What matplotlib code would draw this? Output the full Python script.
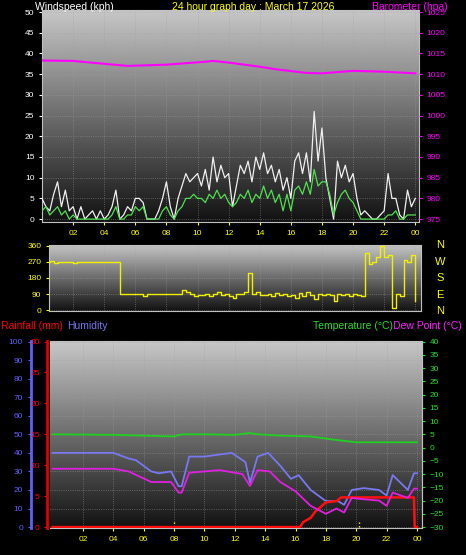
import numpy as np
import matplotlib
matplotlib.use("Agg")
import matplotlib.pyplot as plt
plt.rcParams['font.family'] = ['Liberation Sans', 'DejaVu Sans']

hours_q = [i * 0.25 for i in range(97)]
gust = [5,3,2,6,9,3,7,2,3,
        0,3,0,1,2,0,2,0,
        1,3,7,0,1,3,2,5,
        5,4,0,0,0,2,5,9,
        3,0,5,8,11,9,10,11,
        8,12,7,15,9,13,10,11,
        3,8,13,11,14,9,15,12,
        16,11,13,9,12,7,10,5,
        14,16,11,16,9,26,14,22,
        10,5,0,14,10,13,9,11,
        5,1,2,1,0,0,1,2,
        11,5,5,1,0,7,3,5]
avg = [2,3,1,2,3,1,2,0,1,
       0,0,0,0,0,0,0,0,
       0,1,3,0,0,1,1,3,
       2,3,0,0,0,0,2,3,
       1,0,2,3,5,5,6,5,
       5,4,6,5,7,5,6,4,
       3,4,6,5,7,4,6,5,
       8,5,7,4,6,2,6,2,
       7,8,6,9,6,12,8,9,
       9,6,1,4,6,7,5,4,
       2,0,0,0,0,0,0,0,
       1,1,2,0,0,1,1,1]
winddir = [270,270,275,265,270,270,270,270,265,
           270,270,270,270,270,270,270,270,
           270,270,270,90,90,90,90,90,
           90,80,90,90,90,90,90,90,
           90,90,90,110,100,90,80,85,
           85,90,80,90,100,85,90,80,
           70,90,90,100,210,90,100,85,
           85,90,80,95,85,90,80,85,
           70,95,80,100,85,60,90,85,
           90,85,50,90,85,90,80,90,
           85,80,320,260,270,300,360,300,
           310,10,90,80,280,270,310,50]
baro_t = [0,2,4,5.5,8,10.5,11,12,14,15,17,18,20,22,24]
baro_v = [1013.3,1013.2,1012.5,1012.0,1012.3,1013.0,1013.2,1012.8,1011.8,1011.2,1010.3,1010.2,1010.8,1010.6,1010.2]

temp_t = [0,4,6,8,8.5,10,12,13,13.5,15,17,18.5,20,22,24]
temp_v = [5,4.8,4.5,4.2,5,5,4.8,5.5,5,4.5,4.2,3,2,2,2]
hum_t = [0,4,5,5.5,6.5,7,7.8,8.3,8.5,9,10,11.8,12.7,13,13.5,14.2,15,15.7,16.2,17,18,18.8,19.2,19.7,20.5,21.5,22,22.4,23.4,23.8,24]
hum_v = [40,40,37,36,30,29,30,22,22,38,38,40,35,24,38,40,33,26,28,20,14,14,12,20,21,20,17,28,20,29,29]
dew_t = [0,4,5,6.5,7.8,8.3,8.5,9,11,12.5,13,13.5,14.3,15,16,17,18,18.7,19.2,19.7,20.5,21.5,22,22.4,23.4,23.8,24]
dew_v = [-8,-8,-9,-13,-13,-17,-17,-9.5,-8.5,-10,-14.5,-8.5,-9,-13,-16.5,-22,-25,-23,-24.5,-19,-19.5,-20,-22,-17,-19,-15.5,-15.5]
rain_t = [0,16.3,16.5,17,17.3,18,18.7,19,23.8,23.85,24]
rain_v = [0,0,0.8,1.5,2.5,4,4.2,4.8,4.8,0,0]
xt = [2,4,6,8,10,12,14,16,18,20,22,24]
xtl = ['02','04','06','08','10','12','14','16','18','20','22','00']

fig = plt.figure(figsize=(4.66, 5.55), dpi=100, facecolor='black')
grad = np.linspace(0.78, 0.07, 256).reshape(-1, 1)

def bg(ax):
    ax.set_facecolor('black')
    ax.imshow(grad, cmap='gray', vmin=0, vmax=1, aspect='auto',
              extent=[0, 1, 0, 1], transform=ax.transAxes, zorder=0)
    ax.grid(True, color='#a0a0a0', ls=':', lw=0.6, alpha=0.6)
    for s in ax.spines.values():
        s.set_color('#c0c0c0')
    ax.tick_params(colors='yellow', labelsize=6, length=2)

ax1 = fig.add_axes([42/466, 1-222/555, 377/466, 212/555])
bg(ax1)
ax1.plot(hours_q, gust, color='#f0f0f0', lw=0.9, zorder=3)
ax1.plot(hours_q, avg, color='#50e050', lw=0.9, zorder=4)
ax1.set_xlim(0, 24.24)
ax1.set_ylim(-0.7, 50.5)
ax1.set_yticks(range(0, 51, 5))
ax1.set_xticks(xt); ax1.set_xticklabels(xtl)
ax1.tick_params(axis='y', colors='white')
for l in ax1.get_xticklabels(): l.set_color('yellow')
ax1b = ax1.twinx()
ax1b.plot(baro_t, baro_v, color='#ff00ff', lw=1.5, zorder=5)
ax1b.set_ylim(975 - 0.7, 1025.5)
ax1b.set_yticks(range(975, 1026, 5))
ax1b.tick_params(colors='#ff00ff', labelsize=6, length=2)
for s in ax1b.spines.values(): s.set_visible(False)
fs = 7.5
fig.text(35/466, 1-7/555, 'Windspeed (kph)', color='white', fontsize=fs, va='center')
fig.text(172/466, 1-7/555, '24 hour graph day : March 17 2026', color='yellow', fontsize=fs, va='center')
fig.text(372/466, 1-7/555, 'Barometer (hpa)', color='#ff00ff', fontsize=fs, va='center')

ax2 = fig.add_axes([49/466, 1-311/555, 372/466, 66/555])
bg(ax2)
ax2.plot(hours_q, winddir, color='#f0f000', lw=1.0, drawstyle='steps-post', zorder=3)
ax2.set_xlim(0.45, 24.37)
ax2.set_ylim(-5, 365)
ax2.set_yticks([0, 90, 180, 270, 360])
ax2.set_xticks(xt); ax2.set_xticklabels([])
ax2.tick_params(axis='x', length=0)
for i, c in enumerate(['N', 'W', 'S', 'E', 'N']):
    fig.text(440/466, 1-(245+i*16.5)/555, c, color='yellow', fontsize=8, ha='center', va='center')

ax3 = fig.add_axes([50/466, 1-528/555, 372/466, 187/555])
bg(ax3)
ax3.set_xlim(-0.17, 24.33)
ax3.set_ylim(-0.5, 100.3)
ax3.plot(hum_t, hum_v, color='#7878f0', lw=1.3, zorder=4)
ax3.set_yticks(range(0, 101, 10))
ax3.spines['left'].set_position(('outward', 14))
ax3.spines['left'].set_color('#6060ff'); ax3.spines['left'].set_linewidth(2)
ax3.tick_params(axis='y', colors='#6060ff')
for l in ax3.get_yticklabels(): l.set_color('#6060ff')
ax3.set_xticks(xt); ax3.set_xticklabels(xtl)
ax3.vlines([8, 20.2], 0, 3, colors='yellow', linestyles=':', lw=1, zorder=3)

axr = ax3.twinx()
axr.yaxis.set_label_position('left'); axr.yaxis.tick_left()
axr.spines['left'].set_visible(True)
axr.spines['left'].set_position(('outward', 2))
axr.spines['left'].set_color('#e00000'); axr.spines['left'].set_linewidth(2)
for k in ['right', 'top', 'bottom']: axr.spines[k].set_visible(False)
axr.set_ylim(-0.15, 30.09)
axr.set_yticks(range(0, 31, 5))
axr.tick_params(colors='red', labelsize=6, length=2)
axr.plot(rain_t, rain_v, color='#ff1010', lw=1.8, zorder=6)

axt = ax3.twinx()
for k in ['left', 'top', 'bottom']: axt.spines[k].set_visible(False)
axt.spines['right'].set_color('#c0c0c0')
axt.set_ylim(-30 - 0.35, 40.21)
axt.set_yticks(range(-30, 41, 5))
axt.tick_params(colors='#20e020', labelsize=6, length=2)
axt.plot(temp_t, temp_v, color='#20d020', lw=1.3, zorder=5)
axt.plot(dew_t, dew_v, color='#e020e0', lw=1.3, zorder=5)

fig.text(1/466, 1-326/555, 'Rainfall (mm)', color='red', fontsize=fs, va='center')
fig.text(67/466, 1-326/555, 'Humidity', color='#7878f0', fontsize=fs, va='center')
fig.text(313/466, 1-326/555, 'Temperature (°C)', color='#20e020', fontsize=fs, va='center')
fig.text(393/466, 1-326/555, 'Dew Point (°C)', color='#ff20ff', fontsize=fs, va='center')

fig.savefig('out.png', dpi=100, facecolor='black')
